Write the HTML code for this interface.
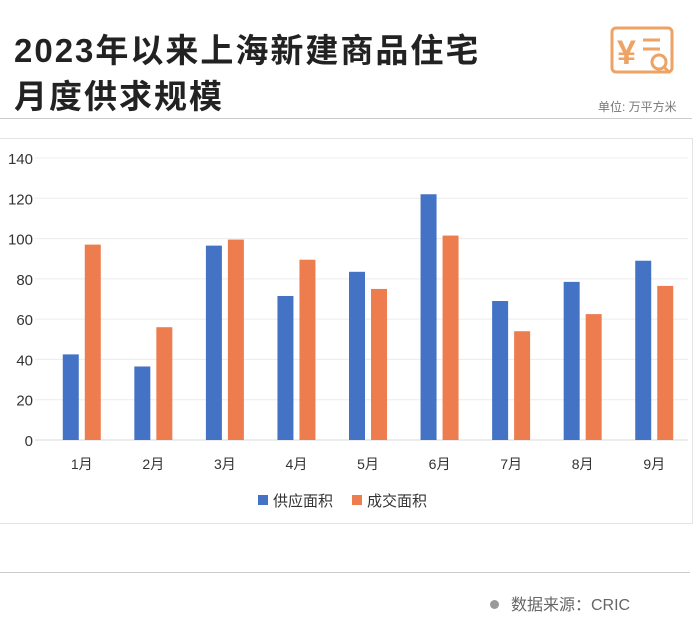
<!DOCTYPE html>
<html><head><meta charset="utf-8"><style>
body{margin:0;width:700px;height:642px;background:#fff;font-family:"Liberation Sans","Noto Sans CJK SC",sans-serif;position:relative;overflow:hidden}
.t{position:absolute;left:14px;font-size:33px;font-weight:bold;color:#222;letter-spacing:2px}
</style></head><body>
<div class="t" style="top:24px">2023年以来上海新建商品住宅</div>
<div class="t" style="top:70px">月度供求规模</div>
<svg style="position:absolute;left:608px;top:22px" width="70" height="56" viewBox="0 0 70 56">
<rect x="4" y="6" width="60" height="44" rx="4" fill="none" stroke="#eea264" stroke-width="3"/>
<text x="9" y="42" font-size="34" font-weight="bold" fill="#eea264" font-family="Liberation Sans,sans-serif">¥</text>
<line x1="35" y1="18" x2="52" y2="18" stroke="#eea264" stroke-width="3"/><line x1="35" y1="27" x2="52" y2="27" stroke="#eea264" stroke-width="3"/>
<circle cx="51" cy="40" r="7" fill="#fff" stroke="#eea264" stroke-width="3"/><line x1="56" y1="45" x2="62" y2="51" stroke="#eea264" stroke-width="3"/>
</svg>
<div style="position:absolute;left:598px;top:98px;font-size:12px;color:#777">单位: 万平方米</div>
<div style="position:absolute;left:0;top:118px;width:692px;height:1px;background:#ccc"></div>
<div style="position:absolute;left:-1px;top:138px;width:692px;height:384px;border:1px solid #e4e4e4"></div>
<svg id="c" style="position:absolute;left:0;top:0" width="700" height="642"></svg>
<div style="position:absolute;left:0;top:572px;width:690px;height:1px;background:#ccc"></div>
<div style="position:absolute;left:490px;top:591px;font-size:16px;color:#666"><span style="display:inline-block;width:9px;height:9px;border-radius:50%;background:#999;margin-right:12px;vertical-align:1px"></span>数据来源：CRIC</div>
<script>
const categories=["1月","2月","3月","4月","5月","6月","7月","8月","9月"];
const supply=[42.5,36.5,96.5,71.5,83.5,122,69,78.5,89];
const sales=[97,56,99.5,89.5,75,101.5,54,62.5,76.5];
const ticks=[0,20,40,60,80,100,120,140];
const seriesNames=["供应面积","成交面积"];
const colors=["#4472c4","#ed7d4f"];
const svg=document.getElementById('c');const NS="http://www.w3.org/2000/svg";
const x0=46,x1=690,y0=440,y1=158,max=140;
const y=v=>y0-(v/max)*(y0-y1);
const bw=(x1-x0)/categories.length;
function mk(t,a){const e=document.createElementNS(NS,t);for(const k in a)e.setAttribute(k,a[k]);svg.appendChild(e);return e;}
ticks.forEach(t=>{
 const l=mk('line',{x1:35,x2:688,y1:y(t),y2:y(t),stroke:t===0?'#d9d9d9':'#ececec','stroke-width':1});
 
 
 const tx=mk('text',{x:33,y:y(t)+6,'text-anchor':'end','font-size':15,fill:'#333'});tx.textContent=t;
 
 
});
categories.forEach((c,i)=>{
 const cx=x0+bw*(i+0.5);
 [supply,sales].forEach((s,j)=>{
  const bx=j===0?cx-19:cx+3;
  const r=mk('rect',{x:bx,y:y(s[i]),width:16,height:y0-y(s[i]),fill:colors[j]});
  
  
 });
 const t=mk('text',{x:cx,y:469,'text-anchor':'middle','font-size':14,fill:'#333'});t.textContent=c;
 
 
});
seriesNames.forEach((n,j)=>{
 const lx=258+j*94;
 const r=mk('rect',{x:lx,y:495,width:10,height:10,fill:colors[j]});
 
 
 const t=mk('text',{x:lx+15,y:506,'font-size':15,fill:'#333'});t.textContent=n;
 
 
});
</script>
</body></html>
